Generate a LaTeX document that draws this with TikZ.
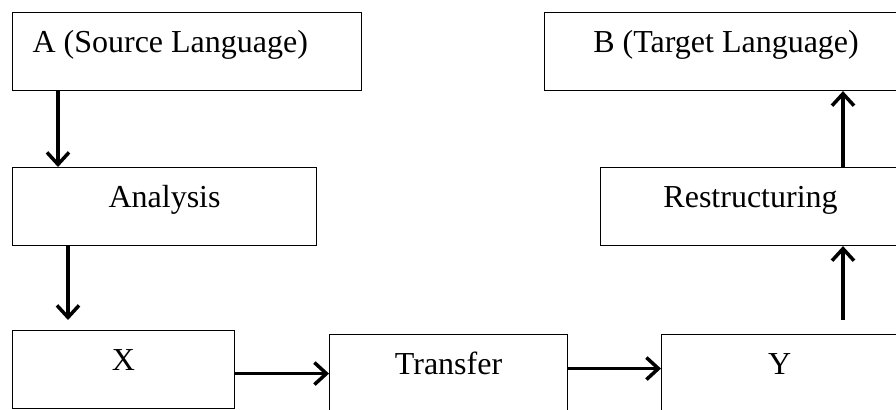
\documentclass[tikz,border=0pt]{standalone}
\usepackage{fontspec}
\setmainfont{Liberation Serif}
\usetikzlibrary{arrows.meta,calc}

\begin{document}
\begin{tikzpicture}[x=1bp,y=-1bp,
  stage/.style={draw,line width=1.1bp,anchor=north west,inner sep=0pt,
    minimum height=78bp,text height=40bp,text depth=38bp,
    font=\fontsize{32bp}{38bp}\selectfont},
  flow/.style={draw,line width=3.5bp,-{Straight Barb[length=12bp,width=22bp]}}]
\useasboundingbox (0,0) rectangle (896,409);
\clip (0,0) rectangle (896,409);

\node[stage,text width=309bp,inner xsep=20bp,align=flush left] (src) at (12,12) {A (Source Language)};
\node[stage,minimum width=363bp] (tgt)      at (544,12)  {B (Target Language)};
\node[stage,minimum width=304bp] (analysis) at (12,167)  {Analysis};
\node[stage,minimum width=300bp] (restruct) at (600,167) {Restructuring};
\node[stage,minimum width=222bp] (xrep)     at (12,330)  {X};
\node[stage,minimum width=238bp] (transfer) at (329,334) {Transfer};
\node[stage,minimum width=236bp] (yrep)     at (661,334) {Y};

\path ([xshift=46bp]src.south west)       edge[flow]                 ([xshift=46bp]src.south west |- analysis.north)
      ([xshift=56bp]analysis.south west)  edge[flow,shorten >=10bp]  ([xshift=56bp]analysis.south west |- xrep.north)
      ([yshift=-4bp]xrep.east)            edge[flow]                 ([yshift=-4bp]xrep.east -| transfer.west)
      ([yshift=5bp]transfer.east)         edge[flow]                 ([yshift=5bp]transfer.east -| yrep.west)
      ([xshift=182bp]yrep.north west)     edge[flow,shorten <=14bp]  ([xshift=182bp]yrep.north west |- restruct.south)
      ([xshift=243bp]restruct.north west) edge[flow]                 ([xshift=243bp]restruct.north west |- tgt.south);
\end{tikzpicture}
\end{document}
